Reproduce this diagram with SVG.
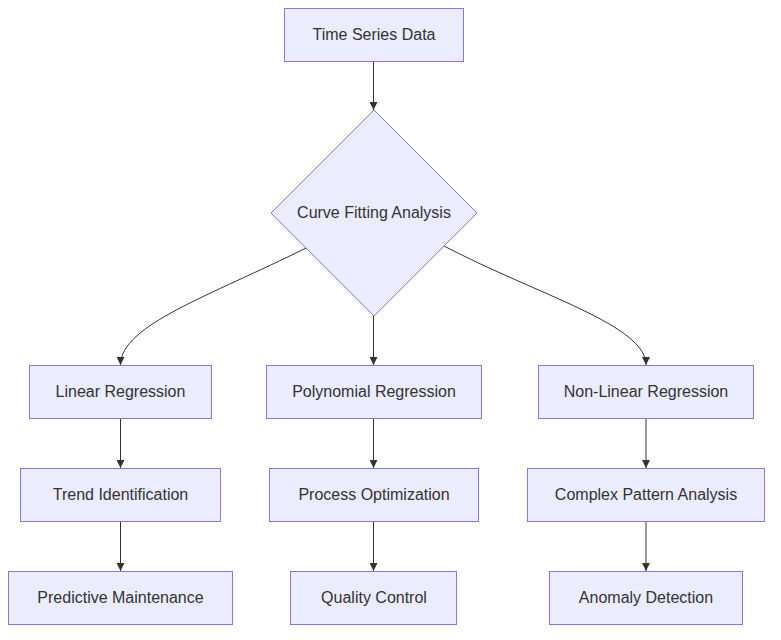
<svg xmlns="http://www.w3.org/2000/svg" width="781" height="640" viewBox="0 0 781 640">
<style>
.n rect,.n polygon{fill:#ECECFF;stroke:#9370DB;stroke-width:1}
.n text{font-family:"Liberation Sans",Arial,sans-serif;font-size:16px;fill:#333;text-anchor:middle;dominant-baseline:central}
.e path{fill:none;stroke:#333;stroke-width:1}
</style>
<defs>
<marker id="ah" viewBox="0 0 10 10" refX="10" refY="5" markerWidth="8" markerHeight="8" markerUnits="userSpaceOnUse" orient="auto">
<path d="M0,0 L10,5 L0,10 z" fill="#333"/>
</marker>
</defs>
<rect width="781" height="640" fill="#fff"/>
<g class="e">
<path d="M373.5,61 L373.5,110" marker-end="url(#ah)"/>
<path d="M306,248 C210,296 120.5,325 120.5,365" marker-end="url(#ah)"/>
<path d="M373.5,316 L373.5,365" marker-end="url(#ah)"/>
<path d="M444,246 C540,296 646,325 646,365" marker-end="url(#ah)"/>
<path d="M120.5,419 L120.5,468" marker-end="url(#ah)"/>
<path d="M373.5,419 L373.5,468" marker-end="url(#ah)"/>
<path d="M646,419 L646,468" marker-end="url(#ah)"/>
<path d="M120.5,522 L120.5,571" marker-end="url(#ah)"/>
<path d="M373.5,522 L373.5,571" marker-end="url(#ah)"/>
<path d="M646,522 L646,571" marker-end="url(#ah)"/>
</g>
<g id="A" class="n"><rect x="284.5" y="8.5" width="179" height="53"/><text x="374" y="34">Time Series Data</text></g>
<g id="B" class="n"><polygon points="374,110 477,213 374,316 271,213"/><text x="374" y="212">Curve Fitting Analysis</text></g>
<g id="C" class="n"><rect x="29.5" y="365.5" width="182" height="53"/><text x="120.5" y="391">Linear Regression</text></g>
<g id="D" class="n"><rect x="266.5" y="365.5" width="215" height="53"/><text x="374" y="391">Polynomial Regression</text></g>
<g id="E" class="n"><rect x="538.5" y="365.5" width="215" height="53"/><text x="646" y="391">Non-Linear Regression</text></g>
<g id="F" class="n"><rect x="20.5" y="468.5" width="200" height="53"/><text x="120.5" y="494">Trend Identification</text></g>
<g id="G" class="n"><rect x="269.5" y="468.5" width="209" height="53"/><text x="374" y="494">Process Optimization</text></g>
<g id="H" class="n"><rect x="527.5" y="468.5" width="237" height="53"/><text x="646" y="494">Complex Pattern Analysis</text></g>
<g id="I" class="n"><rect x="8.5" y="571.5" width="224" height="53"/><text x="120.5" y="597">Predictive Maintenance</text></g>
<g id="J" class="n"><rect x="290.5" y="571.5" width="166" height="53"/><text x="374" y="597">Quality Control</text></g>
<g id="K" class="n"><rect x="549.5" y="571.5" width="193" height="53"/><text x="646" y="597">Anomaly Detection</text></g>
</svg>
